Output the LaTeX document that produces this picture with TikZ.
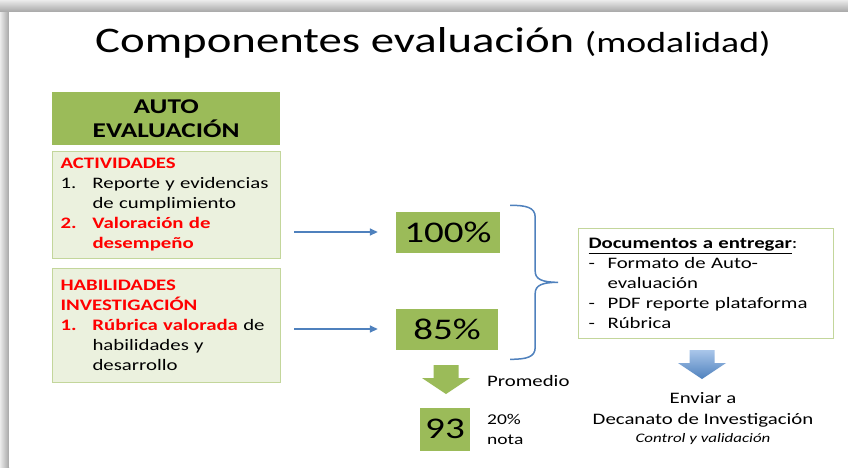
\documentclass[tikz,border=0pt]{standalone}
\usepackage{fontspec}
\setmainfont{Carlito}[FakeStretch=1.3]
\usetikzlibrary{arrows.meta, calc}
\definecolor{ppgreen}{HTML}{9BBB59}
\definecolor{palegreen}{HTML}{EBF1DE}
\definecolor{edgegreen}{HTML}{C3D69B}
\definecolor{ppblue}{HTML}{4F81BD}
\definecolor{arrowlight}{HTML}{A9C6EA}
\definecolor{alertred}{HTML}{FF0000}
\newcommand{\redbf}[1]{\textcolor{alertred}{\bfseries #1}}
\newcommand{\numlab}[1]{\makebox[32pt][l]{#1}}
\newcommand{\numpad}{\hspace*{32pt}}
\newcommand{\dashlab}{\makebox[19pt][l]{-}}
\newcommand{\dashpad}{\hspace*{19pt}}
\tikzset{
    every node/.style={inner sep=0pt},
    headbox/.style={fill=ppgreen, minimum width=228pt, minimum height=53pt,
        align=center, font=\bfseries\fontsize{21}{24}\selectfont},
    notebox/.style={draw=edgegreen, line width=1pt, fill=palegreen,
        text width=212pt, inner xsep=8pt, align=left,
        font=\fontsize{16}{20}\selectfont},
    docbox/.style={draw=edgegreen, line width=1pt, fill=white,
        text width=235pt, inner xsep=10pt, align=left,
        font=\fontsize{16}{20}\selectfont},
    pctbox/.style={fill=ppgreen, font=\fontsize{30}{30}\selectfont},
    linkarrow/.style={ppblue, line width=1.5pt, shorten <=13pt,
        shorten >=18pt, -{Triangle[length=8pt, width=7pt]}},
    greenfill/.style={fill=ppgreen},
    bluefill/.style={top color=arrowlight, bottom color=ppblue},
    blockdown/.pic={
        \path[#1] (-12.5,0) -- (12.5,0) -- (12.5,13) -- (24,13) -- (0,29)
            -- (-24,13) -- (-12.5,13) -- cycle;
    },
}

\begin{document}
\begin{tikzpicture}[x=1pt, y=-1pt]
    \useasboundingbox (0,0) rectangle (848,467);
    % slide frame
    \fill[black!18] (0,0) rectangle (848,467);
    \shade[top color=black!8, bottom color=black!35] (0,0) rectangle (848,12);
    \shade[left color=black!8, right color=black!35] (0,12) rectangle (9,467);
    \fill[white] (9,12) rectangle (848,467);

    \node[anchor=base west, font=\fontsize{36}{40}\selectfont] (title) at (95,52)
        {Componentes evaluación {\fontsize{29}{30}\selectfont(modalidad)}};

    \node[headbox, anchor=north west] (auto) at (52,92) {AUTO\\EVALUACIÓN};
    \node[notebox, anchor=north west, minimum height=107pt] (act) at (52,151) {
        \redbf{ACTIVIDADES}\\
        \numlab{1.}Reporte y evidencias\\
        \numpad de cumplimiento\\
        \redbf{\numlab{2.}Valoración de}\\
        \redbf{\numpad desempeño}};
    \node[notebox, anchor=north west, minimum height=114pt] (hab) at (52,268) {
        \redbf{HABILIDADES}\\
        \redbf{INVESTIGACIÓN}\\
        \redbf{\numlab{1.}Rúbrica valorada} de\\
        \numpad habilidades y\\
        \numpad desarrollo};

    \node[pctbox, minimum width=104pt, minimum height=41pt] (pct100) at (448,232) {100\%};
    \node[pctbox, minimum width=102pt, minimum height=41pt] (pct85) at (447,329) {85\%};
    \node[pctbox, minimum width=50pt, minimum height=43pt] (final) at (445,429) {93};

    \foreach \src/\dst in {act/pct100, hab/pct85}
        \draw[linkarrow] (\src.east |- \dst.west) -- (\dst.west);

    % brace over both percentages
    \coordinate (bracetop) at ([xshift=10pt, yshift=6pt]pct100.north east);
    \draw[ppblue, line width=1.5pt] (bracetop)
        .. controls +(16,0) and +(0,-10) .. ++(25,12) -- ++(0,54)
        .. controls +(0,8) and +(-16,0) .. ++(23,11)
        .. controls +(-16,0) and +(0,-8) .. ++(-23,11) -- ++(0,54)
        .. controls +(0,10) and +(16,0) .. ++(-25,12);

    \node[docbox, anchor=north west, minimum height=110pt] (docs) at (578,228) {
        \underline{\textbf{Documentos a entregar}}:\\
        \dashlab Formato de Auto-\\
        \dashpad evaluación\\
        \dashlab PDF reporte plataforma\\
        \dashlab Rúbrica};

    \pic at (446,365) {blockdown=greenfill};
    \node[anchor=base west, font=\fontsize{16}{20}\selectfont] (avg) at (487,386) {Promedio};
    \node[anchor=north west, align=left, font=\fontsize{15}{20}\selectfont] (share) at (487,414)
        {20\%\\nota};

    \pic at (702,350) {blockdown=bluefill};
    \node[anchor=north, align=center, font=\fontsize{16}{21}\selectfont] (send) at (703,392)
        {Enviar a\\Decanato de Investigación\\[-3pt]
        {\fontsize{13}{15}\selectfont\itshape Control y validación}};
\end{tikzpicture}
\end{document}
